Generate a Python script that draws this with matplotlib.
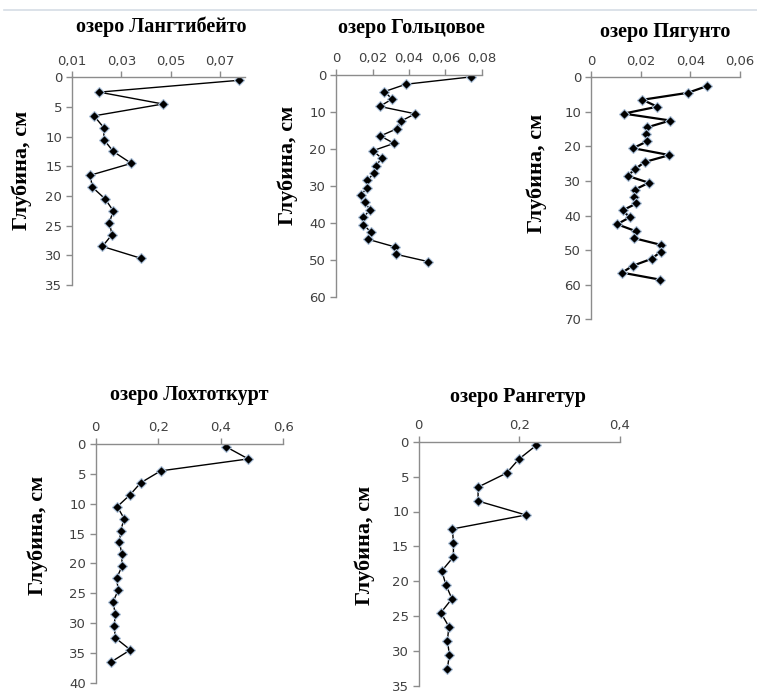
import matplotlib
matplotlib.use('Agg')
import matplotlib.pyplot as plt
from matplotlib.lines import Line2D

# data: depth (cm) and value for each lake
lang_depth = [0.5, 2.5, 4.5, 6.5, 8.5, 10.5, 12.5, 14.5, 16.5, 18.5, 20.5, 22.5, 24.5, 26.5, 28.5, 30.5]
lang_val = [0.0777, 0.021, 0.0468, 0.0189, 0.0229, 0.0229, 0.0267, 0.034, 0.0174, 0.0182,
            0.0234, 0.0267, 0.0251, 0.0262, 0.0223, 0.0379]

golc_depth = [0.5, 2.5, 4.5, 6.5, 8.5, 10.5, 12.5, 14.5, 16.5, 18.5, 20.5, 22.5, 24.5,
              26.5, 28.5, 30.5, 32.5, 34.5, 36.5, 38.5, 40.5, 42.5, 44.5, 46.5, 48.5, 50.5]
golc_val = [0.0742, 0.0383, 0.0265, 0.0308, 0.0239, 0.0434, 0.0355, 0.0336, 0.0243, 0.0318,
            0.0202, 0.025, 0.0221, 0.0209, 0.0172, 0.0172, 0.0135, 0.0159, 0.0187, 0.015,
            0.015, 0.0191, 0.0178, 0.0321, 0.0327, 0.0505]

pyag_depth = [2.5, 4.5, 6.5, 8.5, 10.5, 12.5, 14.5, 16.5, 18.5, 20.5, 22.5, 24.5, 26.5, 28.5, 30.5,
              32.5, 34.5, 36.5, 38.5, 40.5, 42.5, 44.5, 46.5, 48.5, 50.5, 52.5, 54.5, 56.5, 58.5]
pyag_val = [0.0469, 0.0389, 0.0207, 0.0267, 0.0132, 0.0319, 0.0225, 0.0223, 0.0227, 0.0169,
            0.0316, 0.0216, 0.0179, 0.0147, 0.0233, 0.0176, 0.0172, 0.0183, 0.0127, 0.0156,
            0.0105, 0.018, 0.0172, 0.0283, 0.028, 0.0244, 0.0169, 0.0125, 0.0276]

loht_depth = [0.5, 2.5, 4.5, 6.5, 8.5, 10.5, 12.5, 14.5, 16.5, 18.5, 20.5, 22.5, 24.5, 26.5,
              28.5, 30.5, 32.5, 34.5, 36.5]
loht_val = [0.418, 0.488, 0.208, 0.144, 0.11, 0.069, 0.091, 0.08, 0.076, 0.084, 0.084, 0.067,
            0.072, 0.055, 0.063, 0.059, 0.063, 0.111, 0.05]

rang_depth = [0.5, 2.5, 4.5, 6.5, 8.5, 10.5, 12.5, 14.5, 16.5, 18.5, 20.5, 22.5, 24.5, 26.5,
              28.5, 30.5, 32.5]
rang_val = [0.234, 0.199, 0.1745, 0.118, 0.118, 0.213, 0.067, 0.069, 0.069, 0.046, 0.054, 0.066,
            0.044, 0.06, 0.057, 0.061, 0.057]

W, H = 757, 691

# panel settings: title, data, x ticks, y ticks, axes box in pixels (left, right, top, bottom),
# title centre, ylabel centre, line width
panels = [
    ('озеро Лангтибейто', lang_val, lang_depth, [0.01, 0.03, 0.05, 0.07], (0.01, 0.08),
     range(0, 36, 5), (72, 245, 77.3, 285), (161, 27), (22, 170), 1.0),
    ('озеро Гольцовое', golc_val, golc_depth, [0, 0.02, 0.04, 0.06, 0.08], (0, 0.08),
     range(0, 61, 10), (336, 482, 75, 296.7), (411, 28), (288, 165), 1.0),
    ('озеро Пягунто', pyag_val, pyag_depth, [0, 0.02, 0.04, 0.06], (0, 0.06),
     range(0, 71, 10), (591, 740, 77.3, 319.3), (665, 32), (537, 173), 1.6),
    ('озеро Лохтоткурт', loht_val, loht_depth, [0, 0.2, 0.4, 0.6], (0, 0.6),
     range(0, 41, 5), (95.7, 283.3, 444, 682.7), (189, 395), (38, 535), 1.0),
    ('озеро Рангетур', rang_val, rang_depth, [0, 0.2, 0.4], (0, 0.4),
     range(0, 36, 5), (418.7, 620, 441.7, 686), (518, 397), (365, 545), 1.0),
]

fig = plt.figure(figsize=(W / 100, H / 100), dpi=100)

# thin separator line at the top
fig.add_artist(Line2D([4 / W, 1], [1 - 9.5 / H, 1 - 9.5 / H], color='#d6dde5', lw=1.2))

axcol = '#8c8c8c'
for title, xv, yv, xt, xl, yt, box, tpos, lpos, lw in panels:
    l, r, t, b = box
    ax = fig.add_axes([l / W, 1 - b / H, (r - l) / W, (b - t) / H])
    ax.plot(xv, yv, color='black', lw=lw, marker='D', ms=5.5,
            mfc='black', mec='#a9bfd8', mew=0.8)
    ax.set_xlim(*xl)
    ax.set_ylim(max(yt), 0)
    ax.set_xticks(xt)
    ax.set_xticklabels([('%g' % v).replace('.', ',') for v in xt])
    ax.set_yticks(list(yt))
    ax.xaxis.tick_top()
    for s in ['right', 'bottom']:
        ax.spines[s].set_visible(False)
    for s in ['left', 'top']:
        ax.spines[s].set_color(axcol)
        ax.spines[s].set_linewidth(1.0)
    ax.tick_params(direction='out', length=4, width=1, color=axcol,
                   labelsize=9.5, labelcolor='#404040', pad=3)
    ax.patch.set_alpha(0)
    fig.text(tpos[0] / W, 1 - tpos[1] / H, title, ha='center', va='center',
             family='Liberation Serif', fontweight='bold', fontsize=14.5)
    fig.text(lpos[0] / W, 1 - lpos[1] / H, 'Глубина, см', ha='center', va='center',
             rotation=90, family='Liberation Serif', fontweight='bold', fontsize=16)

fig.savefig('out.png', dpi=100)
